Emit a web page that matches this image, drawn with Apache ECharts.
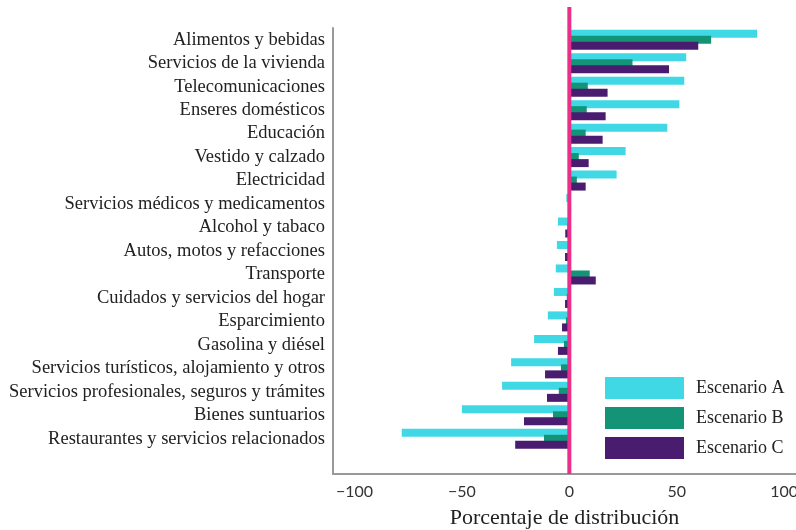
<!DOCTYPE html>
<html>
<head>
<meta charset="utf-8">
<script src="https://cdn.jsdelivr.net/npm/echarts@6/dist/echarts.min.js"></script>
<style>
  html, body { margin: 0; padding: 0; background: #fff; }
  #chart { width: 796px; height: 530px; }
</style>
</head>
<body>
<div id="chart"></div>
<script>
const categories = [
  'Alimentos y bebidas',
  'Servicios de la vivienda',
  'Telecomunicaciones',
  'Enseres domésticos',
  'Educación',
  'Vestido y calzado',
  'Electricidad',
  'Servicios médicos y medicamentos',
  'Alcohol y tabaco',
  'Autos, motos y refacciones',
  'Transporte',
  'Cuidados y servicios del hogar',
  'Esparcimiento',
  'Gasolina y diésel',
  'Servicios turísticos, alojamiento y otros',
  'Servicios profesionales, seguros y trámites',
  'Bienes suntuarios',
  'Restaurantes y servicios relacionados'
];
const escenarioA = [87.4, 54.4, 53.5, 51.2, 45.6, 26.2, 22.0, -1.4, -5.3, -5.8, -6.3, -7.2, -10.0, -16.4, -27.1, -31.3, -50.0, -78.0];
const escenarioB = [66.0, 29.4, 8.6, 8.1, 7.6, 4.4, 3.5, 0.6, -0.9, -0.7, 9.5, -1.2, -1.6, -2.5, -3.9, -4.9, -7.6, -11.8];
const escenarioC = [60.0, 46.4, 17.8, 16.9, 15.5, 9.0, 7.6, 0.8, -1.9, -2.0, 12.3, -2.0, -3.4, -5.3, -11.3, -10.4, -21.1, -25.2];
const xTicks = [-100, -50, 0, 50, 100];

const serif = '"Liberation Serif", "DejaVu Serif", serif';
const colA = '#3fd8e4', colB = '#139477', colC = '#4a1c6f', pink = '#ea2f8a';

let myChart = echarts.init(document.getElementById('chart'));

function barSeries (name, data, color) {
  return {
    name: name,
    type: 'bar',
    data: data,
    barWidth: 8,
    barGap: '-25%',
    itemStyle: { color: color },
    emphasis: { disabled: true }
  };
}

var option = {
  animation: false,
  grid: { left: 333, right: 0, top: 28, bottom: 56, containLabel: false, outerBoundsMode: 'none' },
  legend: {
    orient: 'vertical',
    left: 605,
    top: 377,
    padding: 0,
    itemWidth: 79,
    itemHeight: 22,
    itemGap: 8,
    icon: 'rect',
    data: ['Escenario A', 'Escenario B', 'Escenario C'],
    textStyle: { fontFamily: serif, fontSize: 18, color: '#222', padding: [0, 0, 0, 7] }
  },
  xAxis: {
    type: 'value',
    min: -110,
    max: 105.5,
    name: 'Porcentaje de distribución',
    nameLocation: 'middle',
    nameGap: 33,
    nameTextStyle: { fontFamily: serif, fontSize: 22, color: '#222' },
    axisLine: { show: true, onZero: false, lineStyle: { color: '#999', width: 2 } },
    axisTick: { show: false },
    splitLine: { show: false },
    axisLabel: {
      customValues: xTicks,
      margin: 10,
      fontFamily: 'Lato, "DejaVu Sans", sans-serif',
      fontSize: 16,
      color: '#333',
      formatter: v => String(v).replace('-', '\u2212')
    }
  },
  yAxis: {
    type: 'category',
    data: categories,
    inverse: true,
    max: categories.length,
    axisLine: { show: true, onZero: false, lineStyle: { color: '#999', width: 2 } },
    axisTick: { show: false },
    splitLine: { show: false },
    axisLabel: {
      interval: 0,
      margin: 8,
      padding: [6, 0, 0, 0],
      fontFamily: serif,
      fontSize: 18.5,
      color: '#222',
      formatter: v => (typeof v === 'string' && v !== 'undefined') ? v : ''
    }
  },
  series: [
    barSeries('Escenario A', escenarioA, colA),
    barSeries('Escenario B', escenarioB, colB),
    barSeries('Escenario C', escenarioC, colC)
  ]
};
myChart.setOption(option);

// linea de referencia en cero
var x0 = myChart.convertToPixel({ xAxisIndex: 0 }, 0);
myChart.setOption({
  graphic: [{
    type: 'line',
    z: 100,
    shape: { x1: x0, y1: 7, x2: x0, y2: 474 },
    style: { stroke: pink, lineWidth: 4 }
  }]
});
</script>
</body>
</html>
